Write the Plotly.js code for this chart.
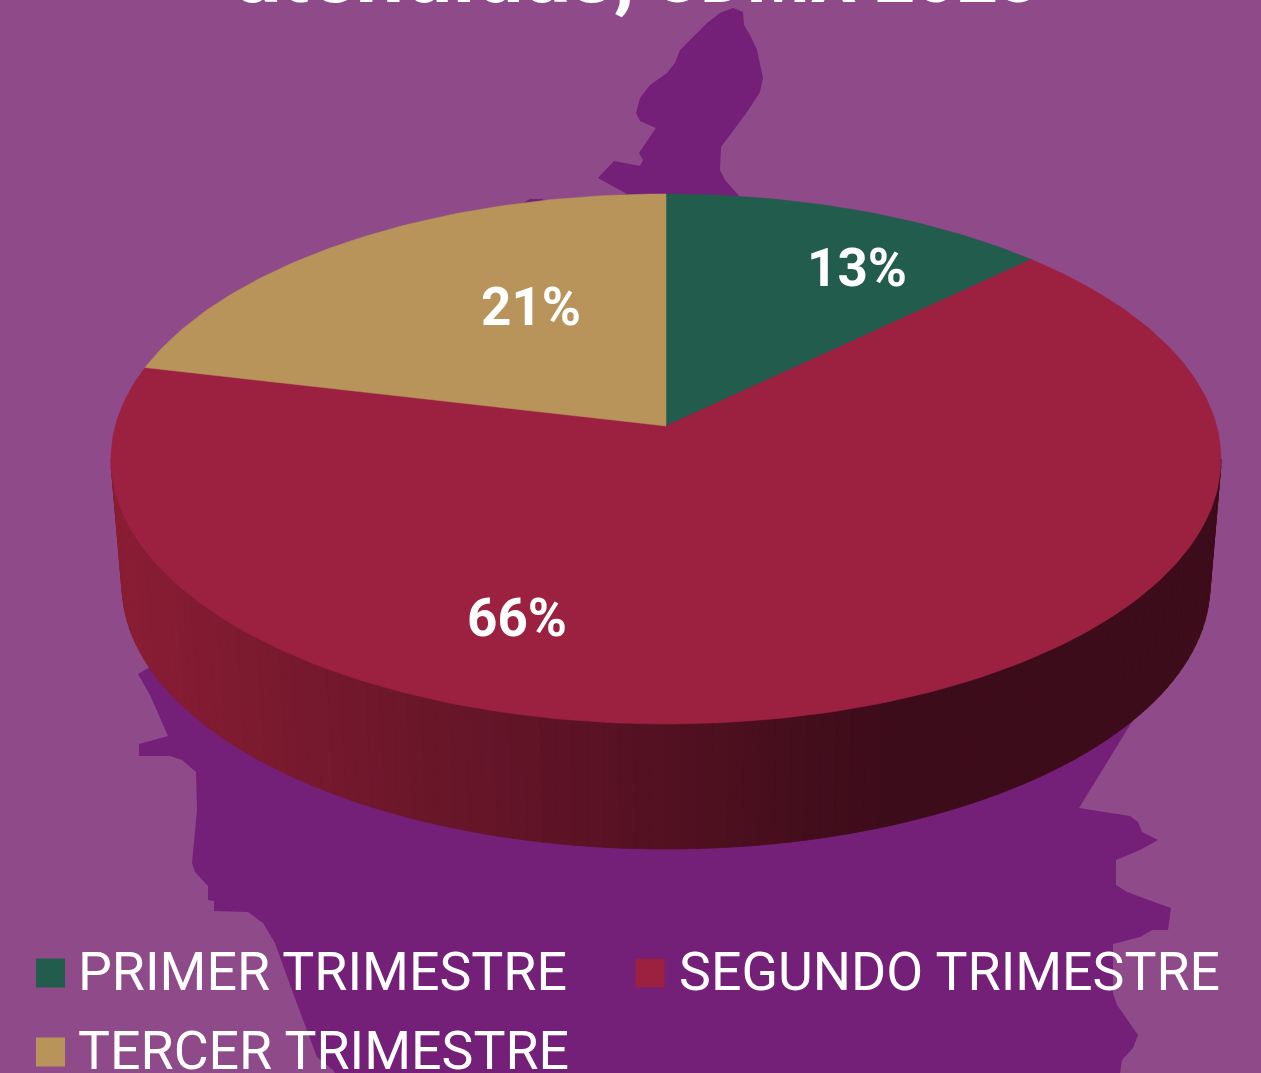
<!DOCTYPE html>
<html><head><meta charset="utf-8">
<script src="https://cdn.plot.ly/plotly-3.0.1.min.js"></script>
<style>html,body{margin:0;padding:0;background:#8F4A8A;overflow:hidden}#c{width:1261px;height:1073px}</style>
</head><body><div id="c"></div>
<script>
// Data
const categories = ['PRIMER TRIMESTRE', 'SEGUNDO TRIMESTRE', 'TERCER TRIMESTRE'];
const percentages = [12.8, 65.9, 21.3];
const sliceColors = ['#225C4C', '#9C2040', '#B8935A'];
const titleWord = 'atendidas,';
const titleTail = 'CDMX 2023';

// Layout / style constants (page-pixel axis space)
const BG = '#8F4A8A', SILHOUETTE = '#741F78';
const PIE = {cx: 666, cy: 426, A: 550.7, a: 260.9, b: 0.1245};
const TOP_RIM = {cx: 666, cy: 459, rx: 555, ry: 265};
const BOTTOM_RIM = {cx: 666, cy: 585, rx: 544, ry: 264};
const LABEL_ANCHORS = [[857, 268], [517, 618], [531, 307]];
const SWATCH_ANCHORS = [[50.5, 973], [650, 973], [50.5, 1052]];
const LEGEND_TEXT_ANCHORS = [[78, 971], [679, 971], [78, 1050]];
const silhouettePath = 'M733,8 L743,12 L744,25 L750,35 L757,50 L763,78 L760,92 L747,112 L730,135 L721,147 L720,170 L725,180 L740,197 L800,300 L1138,712 L1079,808 L1130,816 L1138,822 L1142,832 L1158,840 L1140,850 L1116,860 L1116,885 L1127,892 L1157,903 L1171,908 L1168,930 L1152,930 L1140,937 L1113,944 L1113,993 L1117,1005 L1138,1035 L1133,1048 L1122,1060 L1120,1073 L335,1073 L333,1070 L317,1057 L293,993 L275,943 L263,923 L248,912 L214,911 L214,901 L208,900 L208,886 L195,872 L192,863 L197,810 L196,772 L182,760 L170,756 L139,756 L139,744 L168,736 L150,695 L138,674 L150,667 L300,400 L520,205 L530,199 L542,199 L552,205 L627,194 L598,178 L614,161 L640,166 L643,160 L639,153 L656,128 L640,121 L636,113 L640,98 L650,85 L667,73 L675,63 L680,50 L693,37 L707,23 L720,13 Z';

function project(theta) {
  const u = Math.sin(theta), v = -Math.cos(theta), d = 1 - PIE.b * v;
  return [PIE.cx + PIE.A * u / d, PIE.cy + PIE.a * v / d];
}
function sliceTrace(start, frac, color, name) {
  const x = [PIE.cx], y = [PIE.cy], n = Math.max(12, Math.round(frac * 360));
  for (let i = 0; i <= n; i++) {
    const p = project(2 * Math.PI * (start + frac * i / n));
    x.push(p[0]); y.push(p[1]);
  }
  x.push(PIE.cx); y.push(PIE.cy);
  return {type: 'scatter', mode: 'lines', x, y, fill: 'toself', fillcolor: color,
    line: {color, width: 0.5}, hoverinfo: 'skip', showlegend: false, name};
}
function wallColor(px) {
  const t = Math.min(1, Math.max(0, (px - 120) / 760));
  return `rgb(${Math.round(137 - 76 * t)},${Math.round(29 - 17 * t)},${Math.round(52 - 26 * t)})`;
}
function rim(e, phi) { return [e.cx + e.rx * Math.cos(phi), e.cy + e.ry * Math.sin(phi)]; }

const traces = [];
const STRIPS = 110;
for (let i = 0; i < STRIPS; i++) {
  const p0 = Math.PI * (1 - i / STRIPS), p1 = Math.PI * (1 - (i + 1) / STRIPS);
  const a = rim(TOP_RIM, p0), b = rim(TOP_RIM, p1), c = rim(BOTTOM_RIM, p1), d = rim(BOTTOM_RIM, p0);
  const col = wallColor((a[0] + b[0]) / 2);
  traces.push({type: 'scatter', mode: 'lines', x: [a[0], b[0], c[0], d[0], a[0]], y: [a[1], b[1], c[1], d[1], a[1]],
    fill: 'toself', fillcolor: col, line: {color: col, width: 0.8}, hoverinfo: 'skip', showlegend: false});
}
const total = percentages.reduce((s, v) => s + v, 0);
let cum = 0;
percentages.forEach((v, i) => {
  traces.push(sliceTrace(cum / total, v / total, sliceColors[i], categories[i]));
  cum += v;
});
categories.forEach((c, i) => {
  traces.push({type: 'scatter', mode: 'markers', x: [SWATCH_ANCHORS[i][0]], y: [SWATCH_ANCHORS[i][1]], name: c,
    marker: {symbol: 'square', size: 29, color: sliceColors[i]}, hoverinfo: 'skip', showlegend: false, cliponaxis: false});
});

const layout = {
  width: 1261, height: 1073, margin: {l: 0, r: 0, t: 0, b: 0},
  paper_bgcolor: BG, plot_bgcolor: BG, showlegend: false, hovermode: false,
  title: {text: '<span style="font-size:86px">' + titleWord + '</span> ' + titleTail, x: 0.505, xanchor: 'center', y: 0.9985, yanchor: 'bottom', yref: 'container',
    font: {family: 'Roboto', size: 72, color: '#FFFFFF', weight: 700}},
  xaxis: {range: [0, 1261], visible: false, fixedrange: true},
  yaxis: {range: [1073, 0], visible: false, fixedrange: true},
  shapes: [{type: 'path', xref: 'x', yref: 'y', path: silhouettePath, fillcolor: SILHOUETTE, line: {width: 0}, layer: 'below'}],
  annotations: percentages.map((v, i) => ({xref: 'x', yref: 'y', x: LABEL_ANCHORS[i][0], y: LABEL_ANCHORS[i][1],
    text: '<b>' + Math.round(v) + '%</b>', showarrow: false, xanchor: 'center', yanchor: 'middle',
    font: {family: 'Roboto', size: 53, color: '#FFFFFF'}})).concat(categories.map((c, i) => ({
    xref: 'x', yref: 'y', x: LEGEND_TEXT_ANCHORS[i][0], y: LEGEND_TEXT_ANCHORS[i][1], text: c, showarrow: false,
    xanchor: 'left', yanchor: 'middle', xshift: -2, font: {family: 'Roboto', size: 53.7, color: '#FFFFFF'}})))
};
Plotly.newPlot('c', traces, layout, {displayModeBar: false, staticPlot: true});
</script></body></html>
